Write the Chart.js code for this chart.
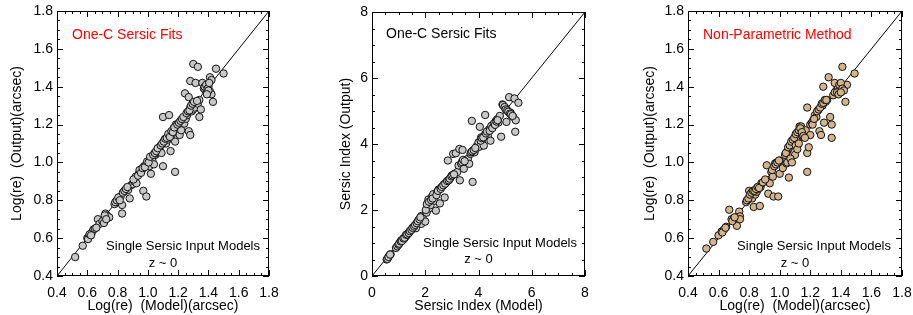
<!DOCTYPE html>
<html>
<head>
<meta charset="utf-8">
<script src="https://cdn.jsdelivr.net/npm/chart.js@4.4.1/dist/chart.umd.min.js"></script>
<style>
  body { margin: 0; background: #fff; }
  #wrap { position: relative; width: 913px; height: 315px; }
  canvas { position: absolute; top: 0; }
</style>
</head>
<body>
<div id="wrap">
  <canvas id="reffChart" width="300" height="315" style="left:0"></canvas>
  <canvas id="sersicChart" width="300" height="315" style="left:300px"></canvas>
  <canvas id="npChart" width="313" height="315" style="left:600px"></canvas>
</div>
<script>
// 坐标轴刻度
const logTicks = [0.4, 0.6, 0.8, 1.0, 1.2, 1.4, 1.6, 1.8];
const sersicTicks = [0, 2, 4, 6, 8];
const logDiag = [0.4, 1.8];
const sersicDiag = [0, 8];

// Log(re): model vs output, One-C Sersic fits
const reffOneC = [
  [0.52,0.50],[0.57,0.56],[0.60,0.60],[0.61,0.61],[0.62,0.62],[0.63,0.63],[0.64,0.645],[0.65,0.65],
  [0.67,0.70],[0.68,0.675],[0.70,0.69],[0.71,0.68],[0.72,0.73],[0.73,0.72],[0.745,0.71],
  [0.78,0.78],[0.79,0.79],[0.80,0.80],[0.81,0.81],[0.81,0.795],[0.82,0.82],[0.83,0.73],[0.83,0.775],
  [0.84,0.845],[0.85,0.85],[0.86,0.86],[0.87,0.855],[0.88,0.81],[0.89,0.88],[0.90,0.885],[0.91,0.90],
  [0.92,0.925],[0.925,0.89],[0.94,0.94],[0.95,0.95],[0.96,0.96],[0.97,0.85],[0.975,0.98],[0.99,0.82],
  [0.99,0.99],[1.00,1.00],[1.01,0.98],[1.02,0.94],[1.03,1.01],[1.04,0.99],[1.05,1.04],[1.06,1.05],
  [1.07,1.07],[1.075,1.08],[1.08,1.06],[1.09,1.05],[1.10,0.98],[1.10,1.24],[1.10,1.10],[1.11,1.12],
  [1.12,1.10],[1.13,1.12],[1.14,1.25],[1.14,1.14],[1.15,1.06],[1.15,1.13],[1.16,1.15],[1.17,1.18],
  [1.18,1.11],[1.18,0.95],[1.185,1.20],[1.19,1.17],[1.20,1.19],[1.21,1.145],[1.22,1.17],[1.23,1.22],
  [1.24,1.205],[1.245,1.365],[1.25,1.23],[1.26,1.25],[1.27,1.165],[1.27,1.345],[1.28,1.145],[1.28,1.29],
  [1.28,1.43],[1.29,1.27],[1.30,1.52],[1.30,1.28],[1.31,1.29],[1.315,1.42],[1.32,1.32],[1.33,1.505],
  [1.33,1.31],[1.34,1.33],[1.34,1.24],[1.35,1.28],[1.36,1.42],[1.37,1.39],[1.38,1.38],[1.39,1.37],
  [1.40,1.40],[1.41,1.45],[1.41,1.375],[1.42,1.435],[1.42,1.36],[1.43,1.32],[1.45,1.495],[1.50,1.47],
  [0.605,0.595],[0.615,0.62],[0.625,0.615],[0.66,0.655],[0.715,0.72],[0.725,0.70],[0.785,0.79],
  [0.795,0.80],[0.805,0.815],[0.815,0.80],[0.835,0.84],[0.845,0.85],[0.855,0.86],[0.865,0.87],
  [0.905,0.91],[0.935,0.93],[0.945,0.96],[0.955,0.945],[0.965,0.97],[0.98,0.975],[0.995,1.005],
  [1.005,1.00],[1.015,1.03],[1.035,1.04],[1.045,1.05],[1.055,1.06],[1.065,1.075],[1.085,1.09],
  [1.095,1.10],[1.105,1.11],[1.115,1.125],[1.125,1.13],[1.135,1.15],[1.145,1.135],[1.155,1.165],
  [1.165,1.16],[1.175,1.185],[1.195,1.20],[1.205,1.21],[1.215,1.22],[1.225,1.23],[1.235,1.24],
  [1.255,1.26],[1.265,1.27],[1.275,1.275],[1.285,1.30],[1.295,1.31],[1.305,1.32],[1.325,1.325],
  [1.375,1.40],[1.385,1.41],[1.395,1.39],[1.40,1.38],[1.405,1.42],[1.39,1.36]
];

// Sersic index: model vs output, One-C Sersic fits
const nOneC = [
  [0.55,0.50],[0.60,0.55],[0.65,0.62],[0.70,0.66],[0.90,0.85],[0.95,0.90],[1.00,0.95],[1.05,1.02],
  [1.10,1.08],[1.15,1.10],[1.20,1.12],[1.25,1.18],[1.30,1.22],[1.35,1.28],[1.40,1.33],[1.45,1.38],
  [1.50,1.42],[1.55,1.48],[1.60,1.52],[1.65,1.45],[1.70,1.62],[1.75,1.70],[1.80,1.75],[1.85,1.58],
  [1.85,1.82],[1.90,1.78],[2.00,1.65],[2.05,1.92],[2.08,2.10],[2.10,2.22],[2.12,2.32],[2.15,2.05],
  [2.20,2.15],[2.25,2.40],[2.30,2.48],[2.35,2.28],[2.40,1.98],[2.45,2.55],[2.50,2.62],[2.55,2.20],
  [2.60,2.68],[2.65,2.72],[2.70,2.78],[2.73,2.38],[2.80,2.85],[2.85,3.50],[2.90,2.92],[2.95,2.98],
  [3.00,3.05],[3.05,3.70],[3.10,3.10],[3.15,3.72],[3.20,3.15],[3.25,3.35],[3.28,3.85],[3.30,2.90],
  [3.35,3.40],[3.40,3.82],[3.40,3.48],[3.45,3.25],[3.50,3.50],[3.55,3.45],[3.60,3.55],[3.65,3.40],
  [3.70,3.70],[3.75,4.70],[3.78,2.85],[3.80,3.80],[3.85,3.75],[3.90,3.85],[3.95,3.95],[4.00,4.05],
  [4.05,4.52],[4.05,3.92],[4.10,4.20],[4.15,4.15],[4.20,3.95],[4.25,4.88],[4.25,4.30],[4.30,4.35],
  [4.35,4.25],[4.40,4.45],[4.45,4.10],[4.50,4.50],[4.55,4.55],[4.60,4.60],[4.65,4.70],[4.70,4.75],
  [4.75,4.65],[4.80,4.85],[4.85,4.22],[4.90,5.20],[4.95,5.15],[5.00,5.10],[5.05,5.05],[5.05,4.67],
  [5.10,5.00],[5.15,5.42],[5.20,4.95],[5.25,4.88],[5.30,4.82],[5.35,5.38],[5.38,4.37],[5.40,4.72],
  [5.50,5.25],
  [0.58,0.52],[0.62,0.58],[0.68,0.65],[1.02,0.98],[1.08,1.05],[1.12,1.06],[1.18,1.14],[1.22,1.16],
  [1.28,1.25],[1.32,1.26],[1.38,1.30],[1.42,1.36],[1.48,1.40],[1.52,1.46],[1.58,1.50],[1.62,1.55],
  [1.68,1.60],[1.72,1.66],[1.78,1.72],[1.82,1.78],[2.02,2.00],[2.06,2.18],[2.14,2.25],[2.22,2.30],
  [2.28,2.35],[2.42,2.45],[2.48,2.58],[2.58,2.64],[2.62,2.70],[2.68,2.75],[2.75,2.80],[2.82,2.88],
  [2.88,2.90],[2.92,2.95],[2.98,3.02],[3.02,3.05],[3.08,3.08],[3.38,3.45],[3.42,3.52],[3.48,3.48],
  [3.72,3.75],[3.76,3.78],[3.82,3.82],[3.88,3.88],[4.08,4.10],[4.12,4.18],[4.18,4.20],[4.28,4.32],
  [4.32,4.38],[4.42,4.40],[4.48,4.55],[4.52,4.48],[4.58,4.62],[4.62,4.58],[4.68,4.68],[4.72,4.72],
  [4.92,5.18],[4.98,5.12],[5.02,5.05],[5.08,5.02],[5.12,4.98],[5.18,4.92],[5.22,4.90],[5.28,4.85]
];

// Log(re): model vs output, non-parametric method
const reffNonPar = [
  [0.52,0.545],[0.565,0.58],[0.60,0.615],[0.62,0.635],[0.635,0.645],[0.65,0.66],[0.67,0.75],[0.685,0.70],
  [0.70,0.705],[0.71,0.71],[0.72,0.665],[0.735,0.74],[0.74,0.715],[0.74,0.70],[0.78,0.79],[0.79,0.80],
  [0.80,0.85],[0.81,0.82],[0.82,0.81],[0.83,0.765],[0.84,0.83],[0.85,0.845],[0.86,0.86],[0.87,0.77],
  [0.875,0.87],[0.88,0.89],[0.90,0.90],[0.915,0.985],[0.925,0.835],[0.935,0.89],[0.945,0.95],[0.955,0.925],
  [0.96,0.82],[0.97,0.995],[0.98,1.00],[0.99,0.82],[1.00,0.94],[1.00,1.01],[1.02,0.97],[1.035,1.04],
  [1.045,0.995],[1.05,1.06],[1.06,0.92],[1.06,1.075],[1.07,1.09],[1.08,1.10],[1.09,1.11],[1.10,1.135],
  [1.10,1.04],[1.11,1.12],[1.12,1.16],[1.13,1.19],[1.14,1.19],[1.15,1.135],[1.16,1.15],[1.17,1.17],
  [1.18,1.29],[1.18,1.05],[1.18,0.95],[1.19,1.08],[1.20,1.145],[1.20,1.20],[1.21,1.21],[1.22,1.225],
  [1.23,1.25],[1.24,1.24],[1.25,1.275],[1.26,1.165],[1.27,1.145],[1.28,1.30],[1.285,1.40],[1.29,1.21],
  [1.30,1.32],[1.31,1.33],[1.32,1.45],[1.33,1.24],[1.34,1.20],[1.34,1.13],[1.35,1.355],[1.36,1.42],
  [1.37,1.38],[1.38,1.39],[1.395,1.40],[1.41,1.505],[1.42,1.40],[1.43,1.32],[1.44,1.41],[1.49,1.47],
  [0.625,0.63],[0.645,0.655],[0.69,0.69],[0.705,0.71],[0.785,0.80],[0.795,0.81],[0.805,0.83],
  [0.815,0.84],[0.825,0.85],[0.835,0.85],[0.845,0.86],[0.855,0.87],[0.865,0.865],[0.89,0.895],
  [0.905,0.91],[0.95,0.96],[0.965,0.98],[0.975,0.99],[0.985,1.00],[0.995,1.01],[1.04,1.05],
  [1.055,1.08],[1.065,1.09],[1.075,1.11],[1.085,1.12],[1.095,1.13],[1.105,1.15],[1.115,1.16],
  [1.125,1.17],[1.135,1.18],[1.145,1.16],[1.155,1.14],[1.165,1.13],[1.105,1.09],[1.115,1.07],
  [1.125,1.10],[1.215,1.20],[1.225,1.23],[1.245,1.27],[1.255,1.28],[1.265,1.29],[1.275,1.31],
  [1.285,1.315],[1.295,1.33],[1.305,1.33],[1.36,1.37],[1.375,1.37],[1.385,1.36],[1.39,1.41],
  [1.40,1.42],[1.41,1.39],[1.42,1.38],[1.40,1.37],[1.05,1.00],[1.07,1.02],[1.08,1.00]
];

const noteText = 'Single Sersic Input Models';
const zText = 'z ~ 0';
const FONT = '"Liberation Sans", Arial, Helvetica, sans-serif';

// IDL 风格边框：四边向内的刻度 + 图内文字
const idlFrame = {
  id: 'idlFrame',
  afterDraw(chart, args, o) {
    const { ctx, chartArea: a, scales: { x, y } } = chart;
    ctx.save();
    ctx.strokeStyle = '#000';
    ctx.lineWidth = 1;
    ctx.strokeRect(a.left + 0.5, a.top + 0.5, a.width - 1, a.height - 1);
    ctx.beginPath();
    const n = Math.round((o.max - o.min) / o.minor);
    for (let i = 0; i <= n; i++) {
      const v = o.min + i * o.minor;
      const len = (i % o.perMajor === 0) ? 6 : 3;
      const px = Math.round(x.getPixelForValue(v)) + 0.5;
      const py = Math.round(y.getPixelForValue(v)) + 0.5;
      ctx.moveTo(px, a.bottom); ctx.lineTo(px, a.bottom - len);
      ctx.moveTo(px, a.top); ctx.lineTo(px, a.top + len);
      ctx.moveTo(a.left, py); ctx.lineTo(a.left + len, py);
      ctx.moveTo(a.right, py); ctx.lineTo(a.right - len, py);
    }
    ctx.stroke();

    ctx.textBaseline = 'middle';
    ctx.font = '14px ' + FONT;
    ctx.fillStyle = o.titleColor;
    ctx.textAlign = 'left';
    ctx.fillText(o.title, a.left + o.titleDx, a.top + o.titleDy);
    ctx.font = '13px ' + FONT;
    ctx.fillStyle = '#000';
    ctx.textAlign = 'right';
    ctx.fillText(noteText, a.right - o.noteDx, a.bottom - o.noteDy);
    ctx.textAlign = 'center';
    ctx.fillText(zText, (a.left + a.right) / 2, a.bottom - o.zDy);
    ctx.restore();
  }
};

function makePanel(id, pts, fill, c) {
  const axis = (title, isY) => ({
    type: 'linear',
    min: c.ticks[0],
    max: c.ticks[c.ticks.length - 1],
    grid: { display: false, drawTicks: false },
    border: { display: false },
    afterBuildTicks: s => { s.ticks = c.ticks.map(v => ({ value: v })); },
    afterFit: s => {
      if (isY) s.width = c.yWidth; else s.height = 39;
      s.paddingLeft = s.paddingRight = s.paddingTop = s.paddingBottom = 0;
    },
    ticks: {
      color: '#000',
      font: { family: FONT, size: 14 },
      padding: isY ? 4 : 9,
      maxRotation: 0,
      callback: v => c.fmt(v)
    },
    title: {
      display: true,
      text: title,
      color: '#000',
      font: { family: FONT, size: 14 },
      padding: isY ? { top: c.yTitlePad, bottom: 0 } : { top: 0, bottom: 0 }
    }
  });

  return new Chart(document.getElementById(id), {
    type: 'scatter',
    data: {
      datasets: [{
        data: pts.map(p => ({ x: p[0], y: p[1] })),
        backgroundColor: fill,
        borderColor: '#111',
        borderWidth: 1,
        pointRadius: 3.7
      }, {
        type: 'line',
        data: c.diag.map(v => ({ x: v, y: v })),
        borderColor: '#000',
        borderWidth: 1,
        pointRadius: 0,
        showLine: true
      }]
    },
    options: {
      responsive: false,
      animation: false,
      layout: { autoPadding: false, padding: c.pad },
      scales: { x: axis(c.xTitle, false), y: axis(c.yTitle, true) },
      plugins: { legend: { display: false }, tooltip: { enabled: false }, idlFrame: c.frame }
    },
    plugins: [idlFrame]
  });
}

const fmtLog = v => v.toFixed(1);
const fmtInt = v => String(v);

makePanel('reffChart', reffOneC, '#c8c8c8', {
  ticks: logTicks, diag: logDiag, fmt: fmtLog,
  xTitle: 'Log(re)  (Model)(arcsec)', yTitle: 'Log(re)  (Output)(arcsec)',
  yWidth: 57, yTitlePad: 9,
  pad: { left: 0, right: 31, top: 11, bottom: 0 },
  frame: { min: 0.4, max: 1.8, minor: 0.05, perMajor: 4, title: 'One-C Sersic Fits', titleColor: '#ff0000',
           titleDx: 15, titleDy: 24, noteDx: 9, noteDy: 30, zDy: 13 }
});

makePanel('sersicChart', nOneC, '#c8c8c8', {
  ticks: sersicTicks, diag: sersicDiag, fmt: fmtInt,
  xTitle: 'Sersic Index (Model)', yTitle: 'Sersic Index (Output)',
  yWidth: 72, yTitlePad: 38,
  pad: { left: 0, right: 15, top: 12, bottom: 0 },
  frame: { min: 0, max: 8, minor: 0.5, perMajor: 4, title: 'One-C Sersic Fits', titleColor: '#000',
           titleDx: 14, titleDy: 22, noteDx: 8, noteDy: 33, zDy: 17 }
});

makePanel('npChart', reffNonPar, '#d4b48c', {
  ticks: logTicks, diag: logDiag, fmt: fmtLog,
  xTitle: 'Log(re)  (Model)(arcsec)', yTitle: 'Log(re)  (Output)(arcsec)',
  yWidth: 88, yTitlePad: 42,
  pad: { left: 0, right: 11, top: 11, bottom: 0 },
  frame: { min: 0.4, max: 1.8, minor: 0.05, perMajor: 4, title: 'Non-Parametric Method', titleColor: '#ff0000',
           titleDx: 15, titleDy: 24, noteDx: 11, noteDy: 30, zDy: 13 }
});
</script>
</body>
</html>
